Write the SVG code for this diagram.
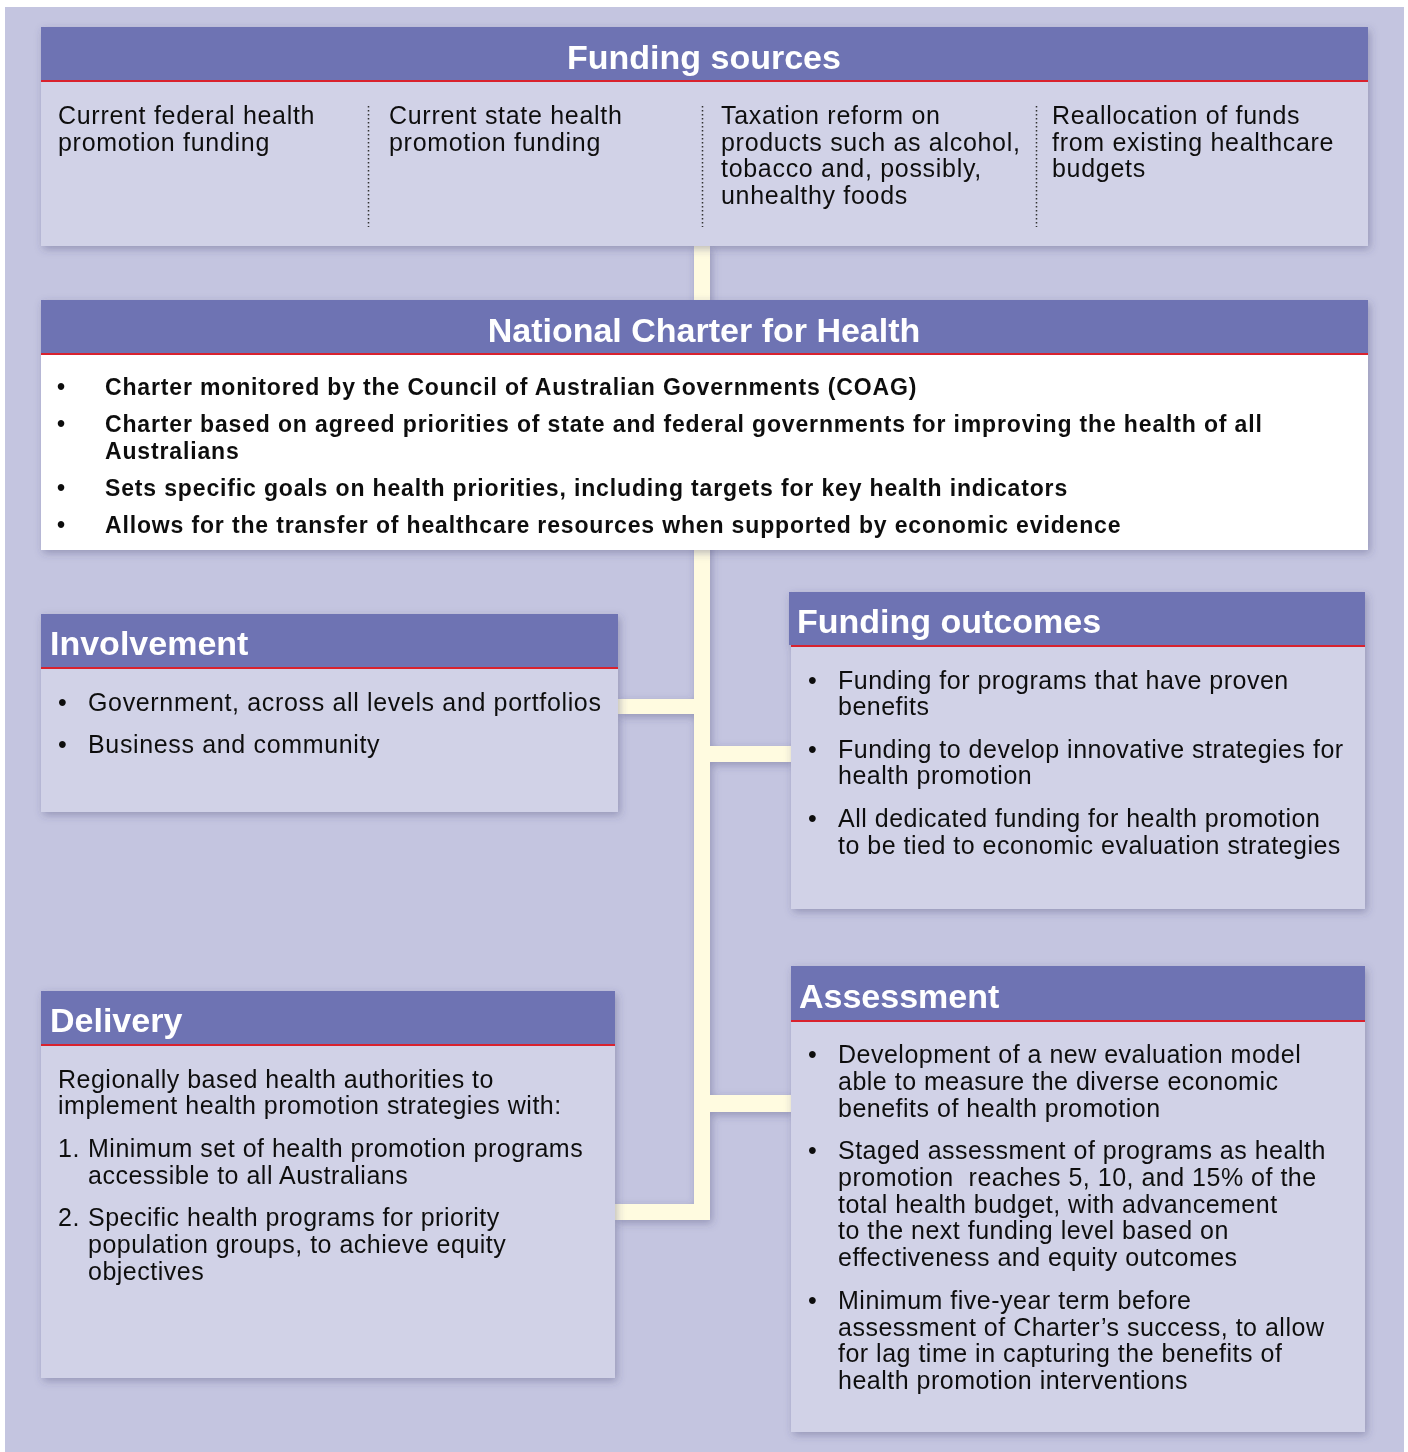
<svg xmlns="http://www.w3.org/2000/svg" width="1408" height="1452" viewBox="0 0 1408 1452">
<defs>
<filter id="sh" x="-10%" y="-10%" width="120%" height="125%">
<feDropShadow dx="2" dy="3" stdDeviation="4" flood-color="#3a3d6a" flood-opacity="0.35"/>
</filter>
<style>
.hd{fill:#6e73b3}
.bd{fill:#d1d2e7}
.wb{fill:#ffffff}
.rl{fill:#d9232e}
.con{fill:#fffbe0}
.t{font-family:"Liberation Sans",Arial,sans-serif;font-size:25px;letter-spacing:0.5px;fill:#111}
.fs{letter-spacing:0.7px}
.inv{letter-spacing:0.65px}
.tb{font-family:"Liberation Sans",Arial,sans-serif;font-size:23px;font-weight:bold;letter-spacing:0.85px;fill:#111}
.ti{font-family:"Liberation Sans",Arial,sans-serif;font-size:34px;font-weight:bold;fill:#fff}
.dot{stroke:#333;stroke-width:1.5;stroke-dasharray:1.5 2.5}
</style>
</defs>
<rect x="0" y="0" width="1408" height="1452" fill="#ffffff"/>
<rect x="5" y="7" width="1399" height="1445" fill="#c4c5e0"/>

<g id="connectors" filter="url(#sh)">
<rect class="con" x="694" y="246" width="16" height="974"/>
<rect class="con" x="618" y="699" width="80" height="15"/>
<rect class="con" x="706" y="746" width="85" height="16"/>
<rect class="con" x="706" y="1095" width="85" height="17"/>
<rect class="con" x="615" y="1204" width="95" height="16"/>
</g>

<g id="funding-sources" filter="url(#sh)">
<rect class="bd" x="41" y="27" width="1327" height="219"/>
<rect class="hd" x="41" y="27" width="1327" height="53"/>
<rect class="rl" x="41" y="80" width="1327" height="2"/>
<text class="ti" x="704" y="69" text-anchor="middle">Funding sources</text>
<line class="dot" x1="368.5" y1="106" x2="368.5" y2="227"/>
<line class="dot" x1="702.5" y1="106" x2="702.5" y2="227"/>
<line class="dot" x1="1036.5" y1="106" x2="1036.5" y2="227"/>
<text class="t fs" x="58" y="124">Current federal health</text>
<text class="t fs" x="58" y="151">promotion funding</text>
<text class="t fs" x="389" y="124">Current state health</text>
<text class="t fs" x="389" y="151">promotion funding</text>
<text class="t fs" x="721" y="124">Taxation reform on</text>
<text class="t fs" x="721" y="151">products such as alcohol,</text>
<text class="t fs" x="721" y="177">tobacco and, possibly,</text>
<text class="t fs" x="721" y="204">unhealthy foods</text>
<text class="t fs" x="1052" y="124">Reallocation of funds</text>
<text class="t fs" x="1052" y="151">from existing healthcare</text>
<text class="t fs" x="1052" y="177">budgets</text>
</g>

<g id="national-charter" filter="url(#sh)">
<rect class="wb" x="41" y="300" width="1327" height="250"/>
<rect class="hd" x="41" y="300" width="1327" height="53"/>
<rect class="rl" x="41" y="353" width="1327" height="2"/>
<text class="ti" x="704" y="342" text-anchor="middle">National Charter for Health</text>
<text class="tb" x="57" y="395">•</text>
<text class="tb" x="105" y="395">Charter monitored by the Council of Australian Governments (COAG)</text>
<text class="tb" x="57" y="432">•</text>
<text class="tb" x="105" y="432">Charter based on agreed priorities of state and federal governments for improving the health of all</text>
<text class="tb" x="105" y="459">Australians</text>
<text class="tb" x="57" y="496">•</text>
<text class="tb" x="105" y="496">Sets specific goals on health priorities, including targets for key health indicators</text>
<text class="tb" x="57" y="533">•</text>
<text class="tb" x="105" y="533">Allows for the transfer of healthcare resources when supported by economic evidence</text>
</g>

<g id="involvement" filter="url(#sh)">
<rect class="bd" x="41" y="614" width="577" height="198"/>
<rect class="hd" x="41" y="614" width="577" height="53"/>
<rect class="rl" x="41" y="667" width="577" height="2"/>
<text class="ti" x="50" y="655">Involvement</text>
<text class="t" x="58" y="711">•</text>
<text class="t inv" x="88" y="711">Government, across all levels and portfolios</text>
<text class="t" x="58" y="753">•</text>
<text class="t inv" x="88" y="753">Business and community</text>
</g>

<g id="funding-outcomes" filter="url(#sh)">
<rect class="bd" x="791" y="592" width="574" height="317"/>
<rect class="hd" x="789" y="592" width="576" height="53"/>
<rect class="rl" x="791" y="645" width="574" height="2"/>
<text class="ti" x="797" y="633">Funding outcomes</text>
<text class="t" x="808" y="689">•</text>
<text class="t" x="838" y="689">Funding for programs that have proven</text>
<text class="t" x="838" y="715">benefits</text>
<text class="t" x="808" y="758">•</text>
<text class="t" x="838" y="758">Funding to develop innovative strategies for</text>
<text class="t" x="838" y="784">health promotion</text>
<text class="t" x="808" y="827">•</text>
<text class="t" x="838" y="827">All dedicated funding for health promotion</text>
<text class="t" x="838" y="854">to be tied to economic evaluation strategies</text>
</g>

<g id="delivery" filter="url(#sh)">
<rect class="bd" x="41" y="991" width="574" height="387"/>
<rect class="hd" x="41" y="991" width="574" height="53"/>
<rect class="rl" x="41" y="1044" width="574" height="2"/>
<text class="ti" x="50" y="1032">Delivery</text>
<text class="t" x="58" y="1088">Regionally based health authorities to</text>
<text class="t" x="58" y="1114">implement health promotion strategies with:</text>
<text class="t" x="58" y="1157">1.</text>
<text class="t" x="88" y="1157">Minimum set of health promotion programs</text>
<text class="t" x="88" y="1184">accessible to all Australians</text>
<text class="t" x="58" y="1226">2.</text>
<text class="t" x="88" y="1226">Specific health programs for priority</text>
<text class="t" x="88" y="1253">population groups, to achieve equity</text>
<text class="t" x="88" y="1280">objectives</text>
</g>

<g id="assessment" filter="url(#sh)">
<rect class="bd" x="791" y="966" width="574" height="466"/>
<rect class="hd" x="791" y="966" width="574" height="54"/>
<rect class="rl" x="791" y="1020" width="574" height="2"/>
<text class="ti" x="799" y="1008">Assessment</text>
<text class="t" x="808" y="1063">•</text>
<text class="t" x="838" y="1063">Development of a new evaluation model</text>
<text class="t" x="838" y="1090">able to measure the diverse economic</text>
<text class="t" x="838" y="1117">benefits of health promotion</text>
<text class="t" x="808" y="1159">•</text>
<text class="t" x="838" y="1159">Staged assessment of programs as health</text>
<text class="t" x="838" y="1186" xml:space="preserve">promotion  reaches 5, 10, and 15% of the</text>
<text class="t" x="838" y="1213">total health budget, with advancement</text>
<text class="t" x="838" y="1239">to the next funding level based on</text>
<text class="t" x="838" y="1266">effectiveness and equity outcomes</text>
<text class="t" x="808" y="1309">•</text>
<text class="t" x="838" y="1309">Minimum five-year term before</text>
<text class="t" x="838" y="1336">assessment of Charter’s success, to allow</text>
<text class="t" x="838" y="1362">for lag time in capturing the benefits of</text>
<text class="t" x="838" y="1389">health promotion interventions</text>
</g>
</svg>
